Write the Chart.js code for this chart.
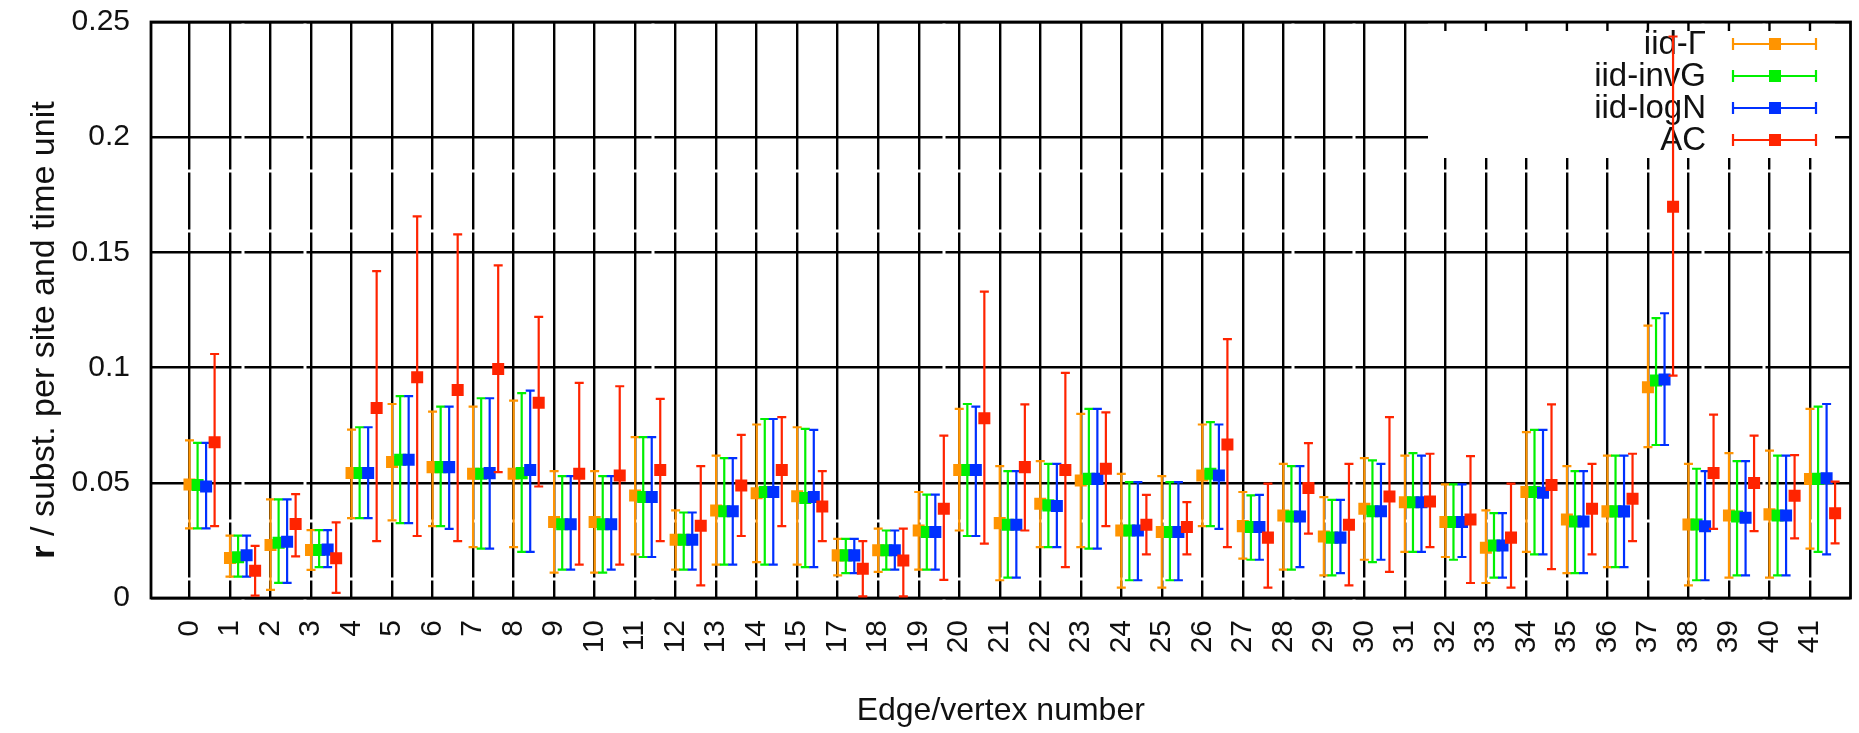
<!DOCTYPE html>
<html>
<head>
<meta charset="utf-8">
<title>Rate estimates per edge</title>
<script src="https://cdn.jsdelivr.net/npm/chart.js@4.4.1/dist/chart.umd.min.js"></script>
<style>
  html, body { margin: 0; padding: 0; background: #ffffff; }
  #wrap { position: relative; width: 1859px; height: 733px; }
</style>
</head>
<body>
<div id="wrap"><canvas id="chart"></canvas></div>
<script>
// Edge / vertex numbers (16 is not part of the set)
const categories = ['0','1','2','3','4','5','6','7','8','9','10','11','12','13','14','15',
  '17','18','19','20','21','22','23','24','25','26','27','28','29','30','31','32','33','34',
  '35','36','37','38','39','40','41'];

const yTickLabels = ['0', '0.05', '0.1', '0.15', '0.2', '0.25'];

// iid-Γ
const gammaMid  = [0.0493,0.0174,0.0230,0.0208,0.0543,0.0590,0.0568,0.0539,0.0539,0.0330,0.0330,0.0445,0.0253,0.0380,0.0455,0.0442,
  0.0185,0.0207,0.0293,0.0556,0.0325,0.0409,0.0510,0.0293,0.0286,0.0532,0.0312,0.0358,0.0267,0.0387,0.0416,0.0330,0.0218,0.0460,
  0.0341,0.0376,0.0915,0.0319,0.0358,0.0363,0.0516];
const gammaLow  = [0.0302,0.0093,0.0035,0.0122,0.0347,0.0337,0.0312,0.0221,0.0221,0.0110,0.0110,0.0189,0.0123,0.0145,0.0156,0.0145,
  0.0098,0.0113,0.0123,0.0293,0.0077,0.0221,0.0221,0.0045,0.0045,0.0312,0.0171,0.0123,0.0098,0.0166,0.0200,0.0178,0.0065,0.0200,
  0.0108,0.0134,0.0655,0.0055,0.0088,0.0088,0.0214];
const gammaHigh = [0.0684,0.0271,0.0428,0.0295,0.0731,0.0842,0.0809,0.0831,0.0857,0.0551,0.0551,0.0698,0.0380,0.0618,0.0753,0.0741,
  0.0257,0.0301,0.0460,0.0821,0.0572,0.0594,0.0799,0.0539,0.0529,0.0753,0.0460,0.0582,0.0438,0.0607,0.0618,0.0493,0.0380,0.0720,
  0.0572,0.0618,0.1182,0.0582,0.0629,0.0640,0.0821];

// iid-invG
const invgMid  = [0.0490,0.0177,0.0240,0.0208,0.0543,0.0600,0.0568,0.0539,0.0542,0.0320,0.0320,0.0438,0.0253,0.0377,0.0460,0.0434,
  0.0185,0.0207,0.0286,0.0556,0.0318,0.0402,0.0517,0.0293,0.0286,0.0539,0.0308,0.0354,0.0262,0.0377,0.0416,0.0330,0.0228,0.0460,
  0.0332,0.0376,0.0944,0.0319,0.0354,0.0358,0.0517];
const invgLow  = [0.0302,0.0093,0.0066,0.0134,0.0347,0.0325,0.0312,0.0214,0.0200,0.0123,0.0110,0.0178,0.0123,0.0145,0.0145,0.0134,
  0.0108,0.0123,0.0123,0.0269,0.0088,0.0221,0.0214,0.0077,0.0077,0.0312,0.0166,0.0123,0.0098,0.0156,0.0200,0.0166,0.0088,0.0189,
  0.0108,0.0134,0.0664,0.0077,0.0098,0.0098,0.0200];
const invgHigh = [0.0673,0.0271,0.0428,0.0295,0.0741,0.0876,0.0831,0.0867,0.0889,0.0529,0.0529,0.0698,0.0371,0.0607,0.0777,0.0734,
  0.0257,0.0293,0.0449,0.0842,0.0551,0.0582,0.0821,0.0503,0.0503,0.0763,0.0445,0.0572,0.0426,0.0597,0.0629,0.0493,0.0368,0.0730,
  0.0551,0.0618,0.1215,0.0561,0.0594,0.0618,0.0831];

// iid-logN
const lognMid  = [0.0484,0.0186,0.0244,0.0210,0.0543,0.0600,0.0568,0.0542,0.0556,0.0320,0.0320,0.0438,0.0253,0.0377,0.0460,0.0438,
  0.0185,0.0207,0.0286,0.0556,0.0318,0.0399,0.0517,0.0293,0.0286,0.0532,0.0308,0.0354,0.0262,0.0377,0.0416,0.0330,0.0228,0.0457,
  0.0332,0.0376,0.0948,0.0311,0.0348,0.0358,0.0520];
const lognLow  = [0.0302,0.0093,0.0066,0.0134,0.0347,0.0325,0.0300,0.0214,0.0200,0.0123,0.0123,0.0178,0.0123,0.0145,0.0145,0.0134,
  0.0108,0.0123,0.0123,0.0269,0.0088,0.0221,0.0214,0.0077,0.0077,0.0300,0.0166,0.0134,0.0108,0.0166,0.0200,0.0178,0.0088,0.0189,
  0.0108,0.0134,0.0664,0.0077,0.0098,0.0098,0.0189];
const lognHigh = [0.0673,0.0271,0.0428,0.0295,0.0741,0.0876,0.0831,0.0867,0.0900,0.0529,0.0529,0.0698,0.0371,0.0607,0.0777,0.0730,
  0.0257,0.0293,0.0449,0.0831,0.0551,0.0582,0.0821,0.0503,0.0503,0.0753,0.0448,0.0572,0.0426,0.0582,0.0618,0.0493,0.0368,0.0730,
  0.0551,0.0618,0.1236,0.0551,0.0594,0.0618,0.0842];

// AC
const acMid  = [0.0676,0.0118,0.0321,0.0173,0.0825,0.0958,0.0903,0.0994,0.0847,0.0539,0.0532,0.0556,0.0314,0.0488,0.0556,0.0397,
  0.0127,0.0163,0.0387,0.0780,0.0568,0.0556,0.0561,0.0318,0.0308,0.0666,0.0262,0.0477,0.0318,0.0441,0.0419,0.0341,0.0262,0.0490,
  0.0387,0.0431,0.1698,0.0543,0.0499,0.0444,0.0368];
const acLow  = [0.0312,0.0010,0.0181,0.0022,0.0247,0.0269,0.0247,0.0546,0.0484,0.0145,0.0145,0.0247,0.0055,0.0269,0.0312,0.0247,
  0.0007,0.0007,0.0079,0.0236,0.0293,0.0134,0.0312,0.0189,0.0189,0.0221,0.0045,0.0279,0.0055,0.0113,0.0221,0.0065,0.0045,0.0125,
  0.0189,0.0247,0.0965,0.0300,0.0290,0.0259,0.0237];
const acHigh = [0.1059,0.0226,0.0451,0.0328,0.1419,0.1656,0.1578,0.1444,0.1220,0.0934,0.0919,0.0864,0.0572,0.0708,0.0785,0.0551,
  0.0247,0.0301,0.0705,0.1330,0.0840,0.0977,0.0806,0.0448,0.0416,0.1124,0.0496,0.0672,0.0582,0.0785,0.0626,0.0616,0.0496,0.0840,
  0.0582,0.0626,0.2437,0.0796,0.0705,0.0620,0.0505];

// Each series sits at its own slot to the right of the category tick
const series = [
  { label: 'iid-\u0393', color: '#ff9400', mid: gammaMid, low: gammaLow, high: gammaHigh, slot: 0.00, order: 3 },
  { label: 'iid-invG',   color: '#00f000', mid: invgMid,  low: invgLow,  high: invgHigh,  slot: 0.20, order: 2 },
  { label: 'iid-logN',   color: '#0030ff', mid: lognMid,  low: lognLow,  high: lognHigh,  slot: 0.41, order: 1 },
  { label: 'AC',         color: '#ff2400', mid: acMid,    low: acLow,    high: acHigh,    slot: 0.62, order: 0 }
];

const FONT = '"Liberation Sans", Arial, Helvetica, sans-serif';
const TICK_SIZE = 30;
const TITLE_SIZE = 32;
const KEY_SIZE = 33;
const YTITLE_SIZE = 34;
const GRID_W = 2.4;

// Turn a list of gap centres (pixels along a grid line) into a dash pattern
function dashFromGaps(start, gaps, gapWidth) {
  const dash = [];
  let pos = start;
  gaps.forEach(g => {
    dash.push(g - gapWidth / 2 - pos, gapWidth);
    pos = g + gapWidth / 2;
  });
  dash.push(5000, 0);
  return dash;
}
const PLOT_LEFT = 151, PLOT_TOP = 22;
const vGridDash = dashFromGaps(PLOT_TOP, [171, 231, 521, 579], 3);
const hGridDash = dashFromGaps(PLOT_LEFT, [243, 305, 653, 944, 1293, 1354, 1703, 1764], 3);

// Vertical error bars with small caps, drawn just before each dataset's markers
const errorBarPlugin = {
  id: 'errorBars',
  beforeDatasetDraw(chart, args) {
    const ds = chart.data.datasets[args.index];
    if (!ds.errLow) return;
    const yScale = chart.scales.y;
    const ctx = chart.ctx;
    ctx.save();
    ctx.strokeStyle = ds.pointBackgroundColor;
    ctx.lineWidth = 2.2;
    const cap = 4.5;
    args.meta.data.forEach((pt, i) => {
      const x = pt.x;
      const yl = yScale.getPixelForValue(ds.errLow[i]);
      const yh = yScale.getPixelForValue(ds.errHigh[i]);
      ctx.beginPath();
      ctx.moveTo(x, yl); ctx.lineTo(x, yh);
      ctx.moveTo(x - cap, yl); ctx.lineTo(x + cap, yl);
      ctx.moveTo(x - cap, yh); ctx.lineTo(x + cap, yh);
      ctx.stroke();
    });
    ctx.restore();
  }
};

// Plot frame, opaque key box with its entries, and the y-axis title
const framePlugin = {
  id: 'frameAndKey',
  beforeDatasetsDraw(chart) {
    const { ctx, chartArea: a } = chart;
    const xScale = chart.scales.x;
    ctx.save();

    // opaque key box
    const box = { l: 1428, r: 1835, t: a.top + 1.5, b: 158 };
    ctx.fillStyle = '#ffffff';
    ctx.fillRect(box.l, box.t, box.r - box.l, box.b - box.t);

    // mirrored tick marks along the top edge, visible inside the key box
    ctx.strokeStyle = '#000';
    ctx.lineWidth = GRID_W;
    xScale.ticks.forEach(t => {
      const x = xScale.getPixelForValue(t.value);
      if (x > box.l && x < box.r) {
        ctx.beginPath();
        ctx.moveTo(x, a.top); ctx.lineTo(x, a.top + 9);
        ctx.stroke();
      }
    });

    // frame
    ctx.lineWidth = 2.8;
    ctx.strokeRect(a.left, a.top, a.right - a.left, a.bottom - a.top);

    // key entries
    const rows = [44, 76, 108, 140];
    ctx.font = KEY_SIZE + 'px ' + FONT;
    ctx.textAlign = 'right';
    ctx.textBaseline = 'middle';
    series.forEach((s, i) => {
      const y = rows[i];
      ctx.fillStyle = '#111';
      ctx.fillText(s.label, 1706, y + 1);
      ctx.strokeStyle = s.color;
      ctx.lineWidth = 2.2;
      ctx.beginPath();
      ctx.moveTo(1733, y); ctx.lineTo(1816, y);
      ctx.moveTo(1733, y - 6); ctx.lineTo(1733, y + 6);
      ctx.moveTo(1816, y - 6); ctx.lineTo(1816, y + 6);
      ctx.stroke();
      ctx.fillStyle = s.color;
      ctx.fillRect(1769, y - 6, 12, 12);
    });
    ctx.restore();
  },
  afterDraw(chart) {
    const ctx = chart.ctx;
    ctx.save();
    ctx.translate(45, 330);
    ctx.rotate(-Math.PI / 2);
    ctx.fillStyle = '#111';
    ctx.textBaseline = 'middle';
    ctx.textAlign = 'left';
    const head = 'r';
    const tail = ' / subst. per site and time unit';
    ctx.font = 'bold ' + YTITLE_SIZE + 'px ' + FONT;
    const wHead = ctx.measureText(head).width;
    ctx.font = YTITLE_SIZE + 'px ' + FONT;
    const wTail = ctx.measureText(tail).width;
    const x0 = -(wHead + wTail) / 2;
    ctx.font = 'bold ' + YTITLE_SIZE + 'px ' + FONT;
    ctx.fillText(head, x0, 0);
    ctx.font = YTITLE_SIZE + 'px ' + FONT;
    ctx.fillText(tail, x0 + wHead, 0);
    ctx.restore();
  }
};

Chart.defaults.font.family = FONT;
Chart.defaults.font.size = TICK_SIZE;
Chart.defaults.color = '#111';

const datasets = series.map(s => ({
  label: s.label,
  data: s.mid.map((v, i) => ({ x: i + s.slot, y: v })),
  errLow: s.low,
  errHigh: s.high,
  showLine: false,
  pointStyle: 'rect',
  pointRadius: 8.5,
  pointHoverRadius: 8.5,
  pointBorderWidth: 0,
  pointBackgroundColor: s.color,
  backgroundColor: s.color,
  borderColor: s.color,
  order: s.order
}));

new Chart(document.getElementById('chart'), {
  type: 'scatter',
  data: { datasets },
  plugins: [errorBarPlugin, framePlugin],
  options: {
    responsive: true,
    maintainAspectRatio: false,
    animation: false,
    devicePixelRatio: 1,
    layout: { padding: { left: 0, top: PLOT_TOP, right: 2, bottom: 0 } },
    plugins: { legend: { display: false }, tooltip: { enabled: false } },
    scales: {
      x: {
        type: 'linear',
        min: -0.95,
        max: 41,
        afterBuildTicks: scale => { scale.ticks = categories.map((c, i) => ({ value: i })); },
        afterFit: scale => { scale.height = 135; scale.paddingLeft = 0; scale.paddingRight = 0; },
        ticks: {
          autoSkip: false,
          minRotation: 90,
          maxRotation: 90,
          padding: 22,
          font: { size: TICK_SIZE },
          callback: (value) => (Number.isInteger(value) ? categories[value] : '')
        },
        grid: { color: '#000', lineWidth: GRID_W, drawTicks: false },
        border: { display: false, dash: vGridDash },
        title: {
          display: true,
          text: 'Edge/vertex number',
          font: { size: TITLE_SIZE },
          padding: { top: 0, bottom: 3 }
        }
      },
      y: {
        min: 0,
        max: 0.25,
        afterBuildTicks: scale => { scale.ticks = yTickLabels.map(t => ({ value: parseFloat(t) })); },
        afterFit: scale => { scale.width = PLOT_LEFT; scale.paddingTop = 0; scale.paddingBottom = 0; },
        ticks: {
          padding: 21,
          font: { size: TICK_SIZE },
          callback: (value, index) => yTickLabels[index]
        },
        grid: { color: '#000', lineWidth: GRID_W, drawTicks: false },
        border: { display: false, dash: hGridDash }
      }
    }
  }
});
</script>
</body>
</html>
